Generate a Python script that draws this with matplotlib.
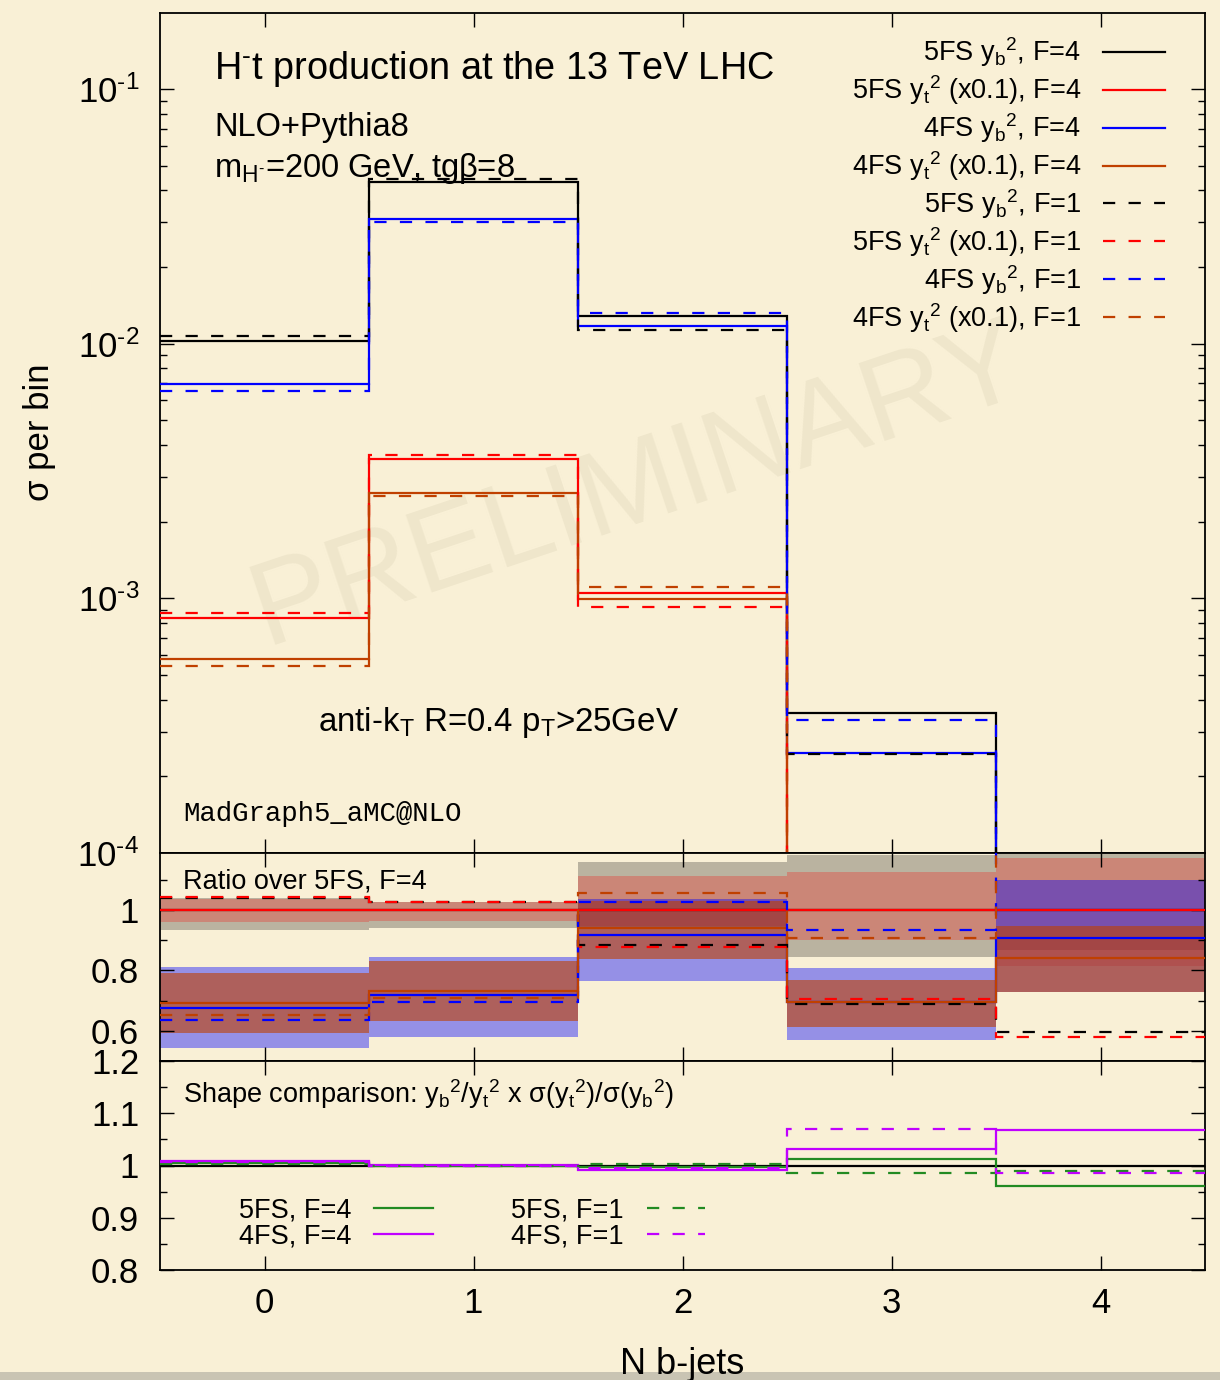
import numpy as np
import matplotlib
matplotlib.use("Agg")
import matplotlib.pyplot as plt
from matplotlib.ticker import FixedLocator, LogLocator, NullFormatter, MultipleLocator
from matplotlib.patches import Rectangle

# ---------------- data ----------------
bin_edges = [-0.5, 0.5, 1.5, 2.5, 3.5, 4.5]
x_ticks = [0, 1, 2, 3, 4]
x_tick_labels = ["0", "1", "2", "3", "4"]

# main panel: sigma per bin (yt curves already x0.1)
yb5_F4 = [1.028e-2, 4.32e-2, 1.283e-2, 3.56e-4, 5.0e-5]
yt5_F4 = [8.37e-4, 3.53e-3, 1.05e-3, 2.9e-5, 4.0e-6]
yb4_F4 = [6.93e-3, 3.08e-2, 1.178e-2, 2.48e-4, 4.5e-5]
yt4_F4 = [5.77e-4, 2.60e-3, 9.93e-4, 2.0e-5, 3.4e-6]
yb5_F1 = [1.069e-2, 4.43e-2, 1.135e-2, 2.45e-4, 3.0e-5]
yt5_F1 = [8.73e-4, 3.65e-3, 9.24e-4, 2.05e-5, 2.3e-6]
yb4_F1 = [6.53e-3, 3.01e-2, 1.316e-2, 3.34e-4, 7.0e-5]
yt4_F1 = [5.43e-4, 2.52e-3, 1.11e-3, 2.6e-5, 5.5e-6]

main_yticks = [1e-4, 1e-3, 1e-2, 1e-1]
main_ytick_labels = ["10$^{\\text{-}4}$", "10$^{\\text{-}3}$",
                     "10$^{\\text{-}2}$", "10$^{\\text{-}1}$"]

# ratio panel: ratio over 5FS, F=4
r_yb5_F4 = [1.0, 1.0, 1.0, 1.0, 1.0]
r_yt5_F4 = [1.0, 1.0, 1.0, 1.0, 1.0]
r_yb4_F4 = [0.675, 0.717, 0.917, 0.694, 0.908]
r_yt4_F4 = [0.692, 0.733, 0.942, 0.697, 0.842]
r_yb5_F1 = [1.040, 1.026, 0.883, 0.688, 0.597]
r_yt5_F1 = [1.044, 1.026, 0.878, 0.706, 0.579]
r_yb4_F1 = [0.635, 0.694, 1.027, 0.934, 1.30]
r_yt4_F1 = [0.651, 0.708, 1.055, 0.907, 1.30]

# ratio panel: uncertainty bands (lower, upper)
band_yb5_lo = [0.935, 0.939, 0.942, 0.846, 0.869]
band_yb5_hi = [1.040, 1.026, 1.160, 1.182, 1.250]
band_yt5_lo = [0.959, 0.964, 0.946, 0.901, 0.815]
band_yt5_hi = [1.035, 1.026, 1.114, 1.127, 1.173]
band_yb4_lo = [0.542, 0.579, 0.766, 0.570, 0.728]
band_yb4_hi = [0.811, 0.846, 1.035, 0.808, 1.098]
band_yt4_lo = [0.594, 0.634, 0.839, 0.612, 0.728]
band_yt4_hi = [0.792, 0.830, 1.030, 0.768, 0.948]

ratio_yticks = [0.6, 0.8, 1.0]
ratio_ytick_labels = ["0.6", "0.8", "1"]

# shape panel
shape_ref = [1.0, 1.0, 1.0, 1.0, 1.0]
shape_5FS_F4 = [1.004, 1.000, 0.998, 1.012, 0.961]
shape_4FS_F4 = [1.009, 1.001, 0.992, 1.031, 1.067]
shape_5FS_F1 = [1.003, 1.000, 1.003, 0.985, 0.990]
shape_4FS_F1 = [1.006, 1.000, 0.995, 1.070, 0.9865]

shape_yticks = [0.8, 0.9, 1.0, 1.1, 1.2]
shape_ytick_labels = ["0.8", "0.9", "1", "1.1", "1.2"]

# ---------------- style ----------------
plt.rcParams["font.family"] = ["Liberation Sans", "DejaVu Sans"]
plt.rcParams["mathtext.fontset"] = "custom"
plt.rcParams["mathtext.rm"] = "Liberation Sans"
plt.rcParams["mathtext.it"] = "Liberation Sans"
plt.rcParams["mathtext.bf"] = "Liberation Sans:bold"
plt.rcParams["mathtext.sf"] = "Liberation Sans"
plt.rcParams["mathtext.default"] = "regular"

BG = "#F9F0D6"
C_BLACK = "#000000"
C_RED = "#FF0000"
C_BLUE = "#0000FF"
C_ORANGE = "#C04000"
C_GREEN = "#228B22"
C_PURPLE = "#C000FF"
LW = 1.6
DASH = (0, (5.5, 6.0))
TICK_FS = 25

fig = plt.figure(figsize=(12.2, 13.8), dpi=100, facecolor=BG)
L, W = 160 / 1220, 1045 / 1220
ax = fig.add_axes([L, 527 / 1380, W, 840 / 1380])
axr = fig.add_axes([L, 319 / 1380, W, 208 / 1380])
axs = fig.add_axes([L, 110 / 1380, W, 209 / 1380])

# bottom gray strip (screenshot edge)
fig.patches.append(Rectangle((0, 0), 1, 8 / 1380, transform=fig.transFigure,
                             facecolor="#C9C4B3", edgecolor="none", zorder=0))

for a in (ax, axr, axs):
    a.set_facecolor(BG)
    a.set_xlim(-0.5, 4.5)
    a.set_xticks(x_ticks)
    for sp in a.spines.values():
        sp.set_linewidth(1.3)
    a.tick_params(which="both", direction="in", top=True, right=True,
                  labelsize=TICK_FS, width=1.0)
    a.tick_params(which="major", length=10)
    a.tick_params(which="minor", length=5)
    a.tick_params(axis="y", pad=15)
    a.tick_params(axis="x", pad=12)

# ---------------- main panel ----------------
ax.set_yscale("log", nonpositive="clip")
ax.set_ylim(1e-4, 0.199)
ax.yaxis.set_major_locator(FixedLocator(main_yticks))
ax.set_yticklabels(main_ytick_labels)
ax.yaxis.set_minor_locator(LogLocator(base=10, subs=np.arange(2, 10)))
ax.yaxis.set_minor_formatter(NullFormatter())
ax.tick_params(axis="x", labelbottom=False)

series = [
    (yb5_F4, C_BLACK, "-", "5FS y$_b$$^2$, F=4"),
    (yt5_F4, C_RED, "-", "5FS y$_t$$^2$ (x0.1), F=4"),
    (yb4_F4, C_BLUE, "-", "4FS y$_b$$^2$, F=4"),
    (yt4_F4, C_ORANGE, "-", "4FS y$_t$$^2$ (x0.1), F=4"),
    (yb5_F1, C_BLACK, DASH, "5FS y$_b$$^2$, F=1"),
    (yt5_F1, C_RED, DASH, "5FS y$_t$$^2$ (x0.1), F=1"),
    (yb4_F1, C_BLUE, DASH, "4FS y$_b$$^2$, F=1"),
    (yt4_F1, C_ORANGE, DASH, "4FS y$_t$$^2$ (x0.1), F=1"),
]
handles = []
for i, (vals, col, ls, lab) in enumerate(series):
    h = ax.stairs(vals, bin_edges, baseline=None, color=col, linestyle=ls,
                  linewidth=LW, label=lab, zorder=3 + i * 0.1)
    handles.append(h)

leg = ax.legend(handles=handles, loc="upper right", bbox_to_anchor=(0.9617, 0.973),
                markerfirst=False, frameon=False, fontsize=19.5, borderpad=0,
                borderaxespad=0, handlelength=2.3, handletextpad=0.8,
                labelspacing=0.15)

ax.text(0.0517, 0.921, "H$^{\\text{-}}$t production at the 13 TeV LHC", transform=ax.transAxes,
        fontsize=27.3, va="baseline", ha="left")
ax.text(0.0517, 0.8536, "NLO+Pythia8", transform=ax.transAxes,
        fontsize=23.5, va="baseline", ha="left")
ax.text(0.0517, 0.8048, "m$_{H^{\\text{-}}}$=200 GeV, tg\u03b2=8", transform=ax.transAxes,
        fontsize=23.5, va="baseline", ha="left")
ax.text(0.151, 0.1452, "anti-k$_T$ R=0.4 p$_T$>25GeV", transform=ax.transAxes,
        fontsize=23.8, va="baseline", ha="left")
ax.text(0.022, 0.038, "MadGraph5_aMC@NLO", transform=ax.transAxes,
        fontsize=19.7, va="baseline", ha="left", family="Liberation Mono")
ax.text(0.458, 0.434, "PRELIMINARY", transform=ax.transAxes, fontsize=86,
        rotation=18.5, ha="center", va="center", color="#EFE6CB", zorder=0.5)

# ---------------- ratio panel ----------------
axr.set_ylim(0.5, 1.189)
axr.yaxis.set_major_locator(FixedLocator(ratio_yticks))
axr.set_yticklabels(ratio_ytick_labels)
axr.yaxis.set_minor_locator(MultipleLocator(0.1))
axr.tick_params(axis="x", labelbottom=False)

bands = [
    (band_yb5_lo, band_yb5_hi, C_BLACK, 0.25),
    (band_yt5_lo, band_yt5_hi, C_RED, 0.25),
    (band_yb4_lo, band_yb4_hi, C_BLUE, 0.40),
    (band_yt4_lo, band_yt4_hi, C_ORANGE, 0.60),
]
for k, (lo, hi, col, al) in enumerate(bands):
    axr.stairs(hi, bin_edges, baseline=lo, fill=True, facecolor=col, alpha=al,
               edgecolor="none", linewidth=0, zorder=1 + k * 0.1)

ratio_series = [
    (r_yb5_F4, C_BLACK, "-"),
    (r_yt5_F4, C_RED, "-"),
    (r_yb4_F4, C_BLUE, "-"),
    (r_yt4_F4, C_ORANGE, "-"),
    (r_yb5_F1, C_BLACK, DASH),
    (r_yt5_F1, C_RED, DASH),
    (r_yb4_F1, C_BLUE, DASH),
    (r_yt4_F1, C_ORANGE, DASH),
]
for i, (vals, col, ls) in enumerate(ratio_series):
    axr.stairs(vals, bin_edges, baseline=None, color=col, linestyle=ls,
               linewidth=LW, zorder=3 + i * 0.1)
axr.text(0.022, 0.828, "Ratio over 5FS, F=4", transform=axr.transAxes,
         fontsize=19.5, va="baseline", ha="left", zorder=6)

# ---------------- shape panel ----------------
axs.set_ylim(0.8, 1.2)
axs.yaxis.set_major_locator(FixedLocator(shape_yticks))
axs.set_yticklabels(shape_ytick_labels)
axs.yaxis.set_minor_locator(MultipleLocator(0.05))
axs.set_xticklabels(x_tick_labels)

axs.stairs(shape_ref, bin_edges, baseline=None, color=C_BLACK, linewidth=LW, zorder=2)
shape_series = [
    (shape_5FS_F4, C_GREEN, "-", "5FS, F=4"),
    (shape_4FS_F4, C_PURPLE, "-", "4FS, F=4"),
    (shape_5FS_F1, C_GREEN, DASH, "5FS, F=1"),
    (shape_4FS_F1, C_PURPLE, DASH, "4FS, F=1"),
]
sh = []
for i, (vals, col, ls, lab) in enumerate(shape_series):
    sh.append(axs.stairs(vals, bin_edges, baseline=None, color=col, linestyle=ls,
                         linewidth=LW, label=lab, zorder=3 + i * 0.1))
axs.legend(handles=sh, ncol=2, loc="lower right", bbox_to_anchor=(0.5215, 0.10),
           markerfirst=False, frameon=False, fontsize=19.5, borderpad=0,
           borderaxespad=0, handlelength=2.15, handletextpad=0.85,
           columnspacing=2.9, labelspacing=0.0)
axs.text(0.022, 0.799, "Shape comparison: y$_b$$^2$/y$_t$$^2$ x \u03c3(y$_t$$^2$)/\u03c3(y$_b$$^2$)",
         transform=axs.transAxes, fontsize=19.5, va="baseline", ha="left")

# ---------------- axis labels ----------------
fig.text(40 / 1220, 1 - 432 / 1380, "\u03c3 per bin", rotation=90, fontsize=25,
         ha="center", va="center")
fig.text(682.5 / 1220, 1 - 1374 / 1380, "N b-jets", fontsize=26, ha="center",
         va="baseline", zorder=5)

fig.savefig("out.png", dpi=100, facecolor=BG)
